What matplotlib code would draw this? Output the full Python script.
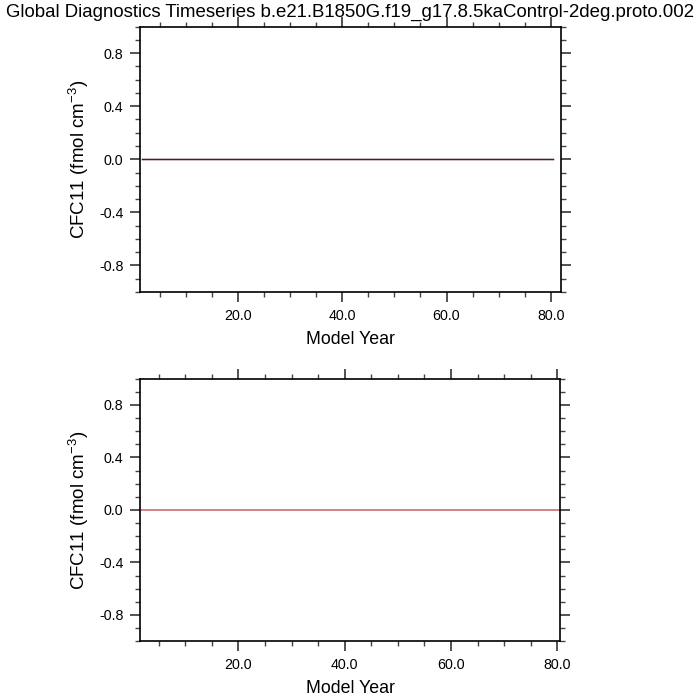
import numpy as np
import matplotlib
matplotlib.use("Agg")
import matplotlib.pyplot as plt
from matplotlib.ticker import MultipleLocator, FixedLocator

# ── data: global-mean CFC11 per model year (all zero in this run) ──
years_top = np.arange(1.0, 81.0) + 0.5
cfc11_top = [0.0] * len(years_top)
years_bot = np.arange(1.0, 81.0) + 0.5
cfc11_bot = [0.0] * len(years_bot)

TITLE = "Global Diagnostics Timeseries b.e21.B1850G.f19_g17.8.5kaControl-2deg.proto.002"
YLABEL = "CFC11 (fmol cm$^{-3}$)"
XLABEL = "Model Year"
XMAJOR = [20, 40, 60, 80]
YMAJOR = [-0.8, -0.4, 0.0, 0.4, 0.8]

plt.rcParams["font.family"] = ["Liberation Sans", "DejaVu Sans"]
plt.rcParams["mathtext.fontset"] = "custom"
plt.rcParams["mathtext.rm"] = "Liberation Sans"


def style_axis(ax, xlim):
    ax.set_xlim(*xlim)
    ax.set_ylim(-1, 1)
    ax.xaxis.set_major_locator(FixedLocator(XMAJOR))
    ax.xaxis.set_minor_locator(MultipleLocator(5))
    ax.yaxis.set_major_locator(FixedLocator(YMAJOR))
    ax.yaxis.set_minor_locator(MultipleLocator(0.1))
    ax.set_xticklabels([f"{v:.1f}" for v in XMAJOR])
    ax.set_yticklabels([f"{v:.1f}" for v in YMAJOR])
    ax.tick_params(which="both", direction="out", top=True, right=True,
                   labelsize=10.3, colors="#444444", labelcolor="black")
    ax.tick_params(which="major", length=7, width=1.3, pad=5)
    ax.tick_params(which="minor", length=3.5, width=1.0)
    for s in ax.spines.values():
        s.set_linewidth(1.2)
    ax.set_xlabel(XLABEL, fontsize=12.8, labelpad=6)
    ax.set_ylabel(YLABEL, fontsize=13.5, labelpad=6)


fig = plt.figure(figsize=(7, 7), dpi=100)
ax1 = fig.add_axes([0.2, 0.583, 0.601, 0.379])
ax2 = fig.add_axes([0.2, 0.084, 0.600, 0.375])

ax1.plot(years_top, cfc11_top, color="black", lw=1.0)
ax1.plot(years_top, cfc11_top, color="#b03030", lw=1.0, alpha=0.5)
style_axis(ax1, (1.2, 81.9))

ax2.plot(years_bot, cfc11_bot, color="#c87070", lw=1.2)
style_axis(ax2, (1.5, 80.5))

fig.text(0.5, 0.982, TITLE, ha="center", va="center", fontsize=13.4)

fig.savefig("out.png", dpi=100)
